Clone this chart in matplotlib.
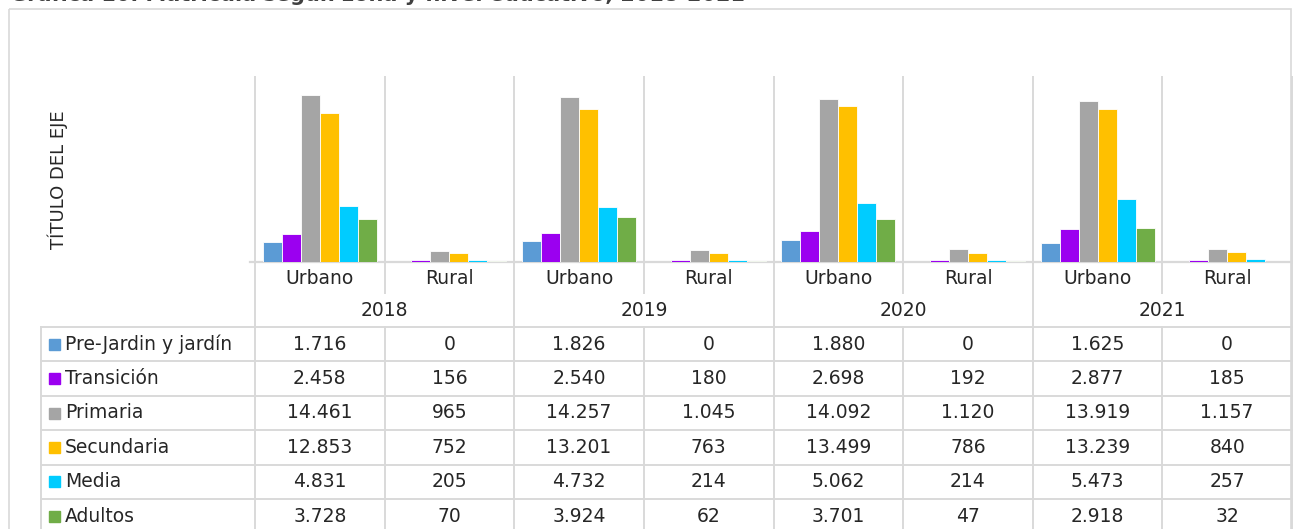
import matplotlib
matplotlib.use("Agg")
import matplotlib.pyplot as plt
from matplotlib.patches import Rectangle

# Data
years = ["2018", "2019", "2020", "2021"]
zones = ["Urbano", "Rural"]
levels = ["Pre-Jardin y jardín", "Transición", "Primaria", "Secundaria", "Media", "Adultos"]
colors = ["#5B9BD5", "#9B00F0", "#A5A5A5", "#FFC000", "#00CCFF", "#70AD47"]

pre_jardin = [1716, 0, 1826, 0, 1880, 0, 1625, 0]
transicion = [2458, 156, 2540, 180, 2698, 192, 2877, 185]
primaria = [14461, 965, 14257, 1045, 14092, 1120, 13919, 1157]
secundaria = [12853, 752, 13201, 763, 13499, 786, 13239, 840]
media = [4831, 205, 4732, 214, 5062, 214, 5473, 257]
adultos = [3728, 70, 3924, 62, 3701, 47, 2918, 32]
series = [pre_jardin, transicion, primaria, secundaria, media, adultos]

W, H = 1293, 529
GRID = "#D9D9D9"
TXT = "#262626"
plt.rcParams['font.family'] = ['DejaVu Sans']

fig = plt.figure(figsize=(W / 100, H / 100), dpi=100)

# overlay axes in pixel coordinates (y downwards)
ov = fig.add_axes([0, 0, 1, 1], zorder=0)
ov.set_xlim(0, W)
ov.set_ylim(H, 0)
ov.axis("off")

# layout in pixels
x0, x1 = 255, 1292
ytop, ybase = 77, 262
ncat = len(years) * len(zones)
cw = (x1 - x0) / ncat
y_cat_end = 293
t_top = 327
row_h = 34.4
t_left = 41

# bar axes
ax = fig.add_axes([x0 / W, (H - ybase) / H, (x1 - x0) / W, (ybase - ytop) / H], zorder=2)
ax.patch.set_alpha(0)
nser = len(series)
bw = 0.1466
for j, (vals, col) in enumerate(zip(series, colors)):
    xs = [i + 0.5 + (j - (nser - 1) / 2) * bw for i in range(ncat)]
    ax.bar(xs, vals, width=bw, color=col, edgecolor="white", linewidth=0.6)
ax.set_xlim(0, ncat)
ax.set_ylim(0, 16000)
for s in ax.spines.values():
    s.set_visible(False)
ax.set_xticks([])
ax.set_yticks([])

# outer chart border
ov.add_patch(Rectangle((9, 9), 1282, 540, fill=False, edgecolor=GRID, lw=1.2))

# title (cut off at the top of the picture, only its lower edge shows)
ov.text(10, 0.8, "Gráfica 10. Matrícula según zona y nivel educativo, 2018-2021",
        ha="left", va="baseline", fontsize=15, fontweight="bold", color="#404040")

# axis title
ov.text(58, 180, "TÍTULO DEL EJE", rotation=90, ha="center", va="center",
        fontsize=13, color=TXT)

# baseline
ov.plot([250, x1], [ybase, ybase], color=GRID, lw=1.6, zorder=1)

# vertical separators
t_bottom = t_top + row_h * len(levels) + 10
for k in range(ncat + 1):
    x = x0 + k * cw
    if k % 2 == 0:
        ov.plot([x, x], [ytop, t_bottom], color=GRID, lw=1.4)
    else:
        ov.plot([x, x], [ytop, y_cat_end], color=GRID, lw=1.4)
        ov.plot([x, x], [t_top, t_bottom], color=GRID, lw=1.4)

# category and year labels
for i in range(ncat):
    ov.text(x0 + (i + 0.5) * cw, 279, zones[i % 2], ha="center", va="center",
            fontsize=13.5, color=TXT)
for y_i, yr in enumerate(years):
    ov.text(x0 + (2 * y_i + 1) * cw, 310, yr, ha="center", va="center",
            fontsize=13.5, color=TXT)

# data table
ov.plot([t_left, t_left], [t_top, t_bottom], color=GRID, lw=1.4)
for r in range(len(levels) + 1):
    yy = t_top + r * row_h
    ov.plot([t_left, x1], [yy, yy], color=GRID, lw=1.4)

for r, (lab, col, vals) in enumerate(zip(levels, colors, series)):
    yc = t_top + (r + 0.5) * row_h
    ov.add_patch(Rectangle((49, yc - 5.5), 11, 11, color=col))
    ov.text(65, yc, lab, ha="left", va="center", fontsize=13.5, color=TXT)
    for i, v in enumerate(vals):
        ov.text(x0 + (i + 0.5) * cw, yc, f"{v:,}".replace(",", "."),
                ha="center", va="center", fontsize=13.5, color=TXT)

fig.savefig("out.png", dpi=100)
